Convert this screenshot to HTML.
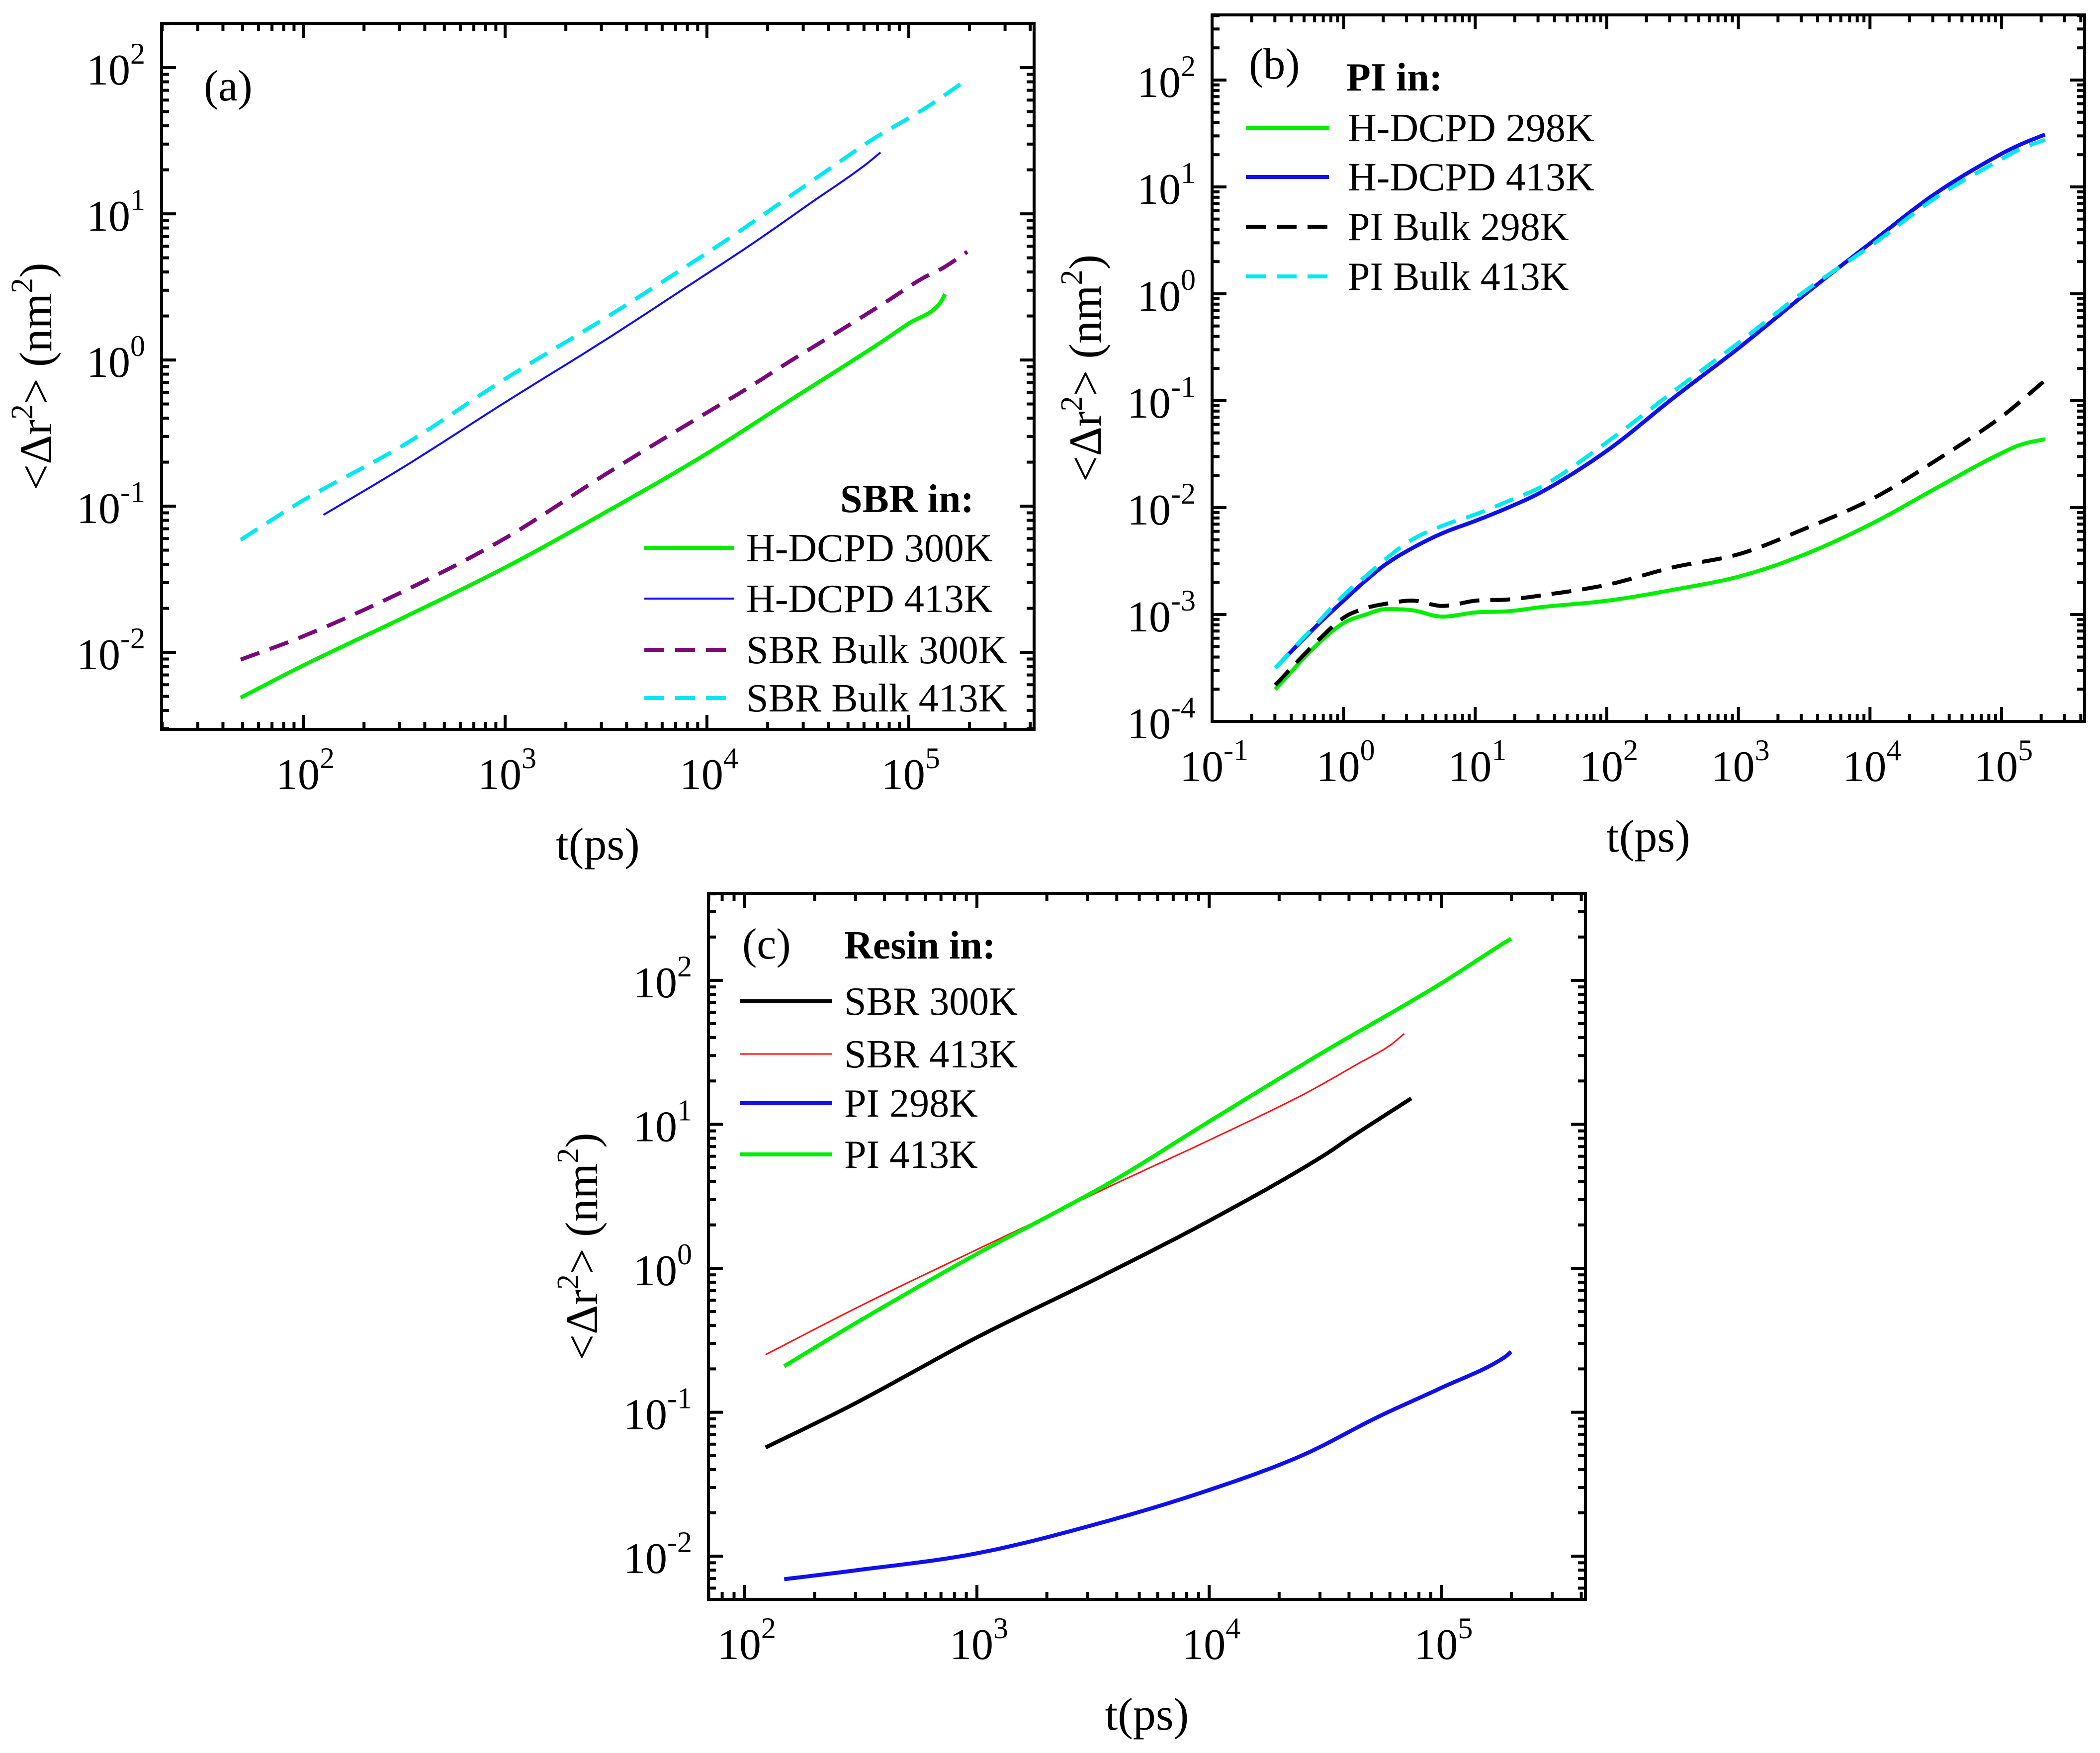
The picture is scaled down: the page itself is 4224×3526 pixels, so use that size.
<!DOCTYPE html>
<html><head><meta charset="utf-8"><style>
html,body{margin:0;padding:0;background:#fff}
svg{display:block}
text{font-family:"Liberation Serif",serif;fill:#000}
</style></head><body>
<svg id="fig" xmlns="http://www.w3.org/2000/svg" width="4224" height="3526" viewBox="0 0 4224 3526"></svg>
<script>
// ---- Panel (a) data (log10 t, log10 MSD) ----
const aGreenX=[1.69,2,2.5,3,3.5,4,4.43,4.67,4.85,5.0,5.15,5.18];
const aGreenY=[-2.31,-2.09,-1.76,-1.42,-1.04,-0.64,-0.26,-0.05,0.11,0.25,0.38,0.45];
const aBlueX=[2.10,2.5,3,3.5,3.9,4.23,4.51,4.78,4.86];
const aBlueY=[-1.06,-0.73,-0.29,0.14,0.50,0.80,1.07,1.33,1.42];
const aPurpleX=[1.69,2,2.5,3,3.5,4,4.17,4.41,4.67,4.89,5.07,5.17,5.29];
const aPurpleY=[-2.05,-1.89,-1.58,-1.22,-0.78,-0.36,-0.22,-0.01,0.21,0.40,0.56,0.63,0.74];
const aCyanX=[1.69,2,2.5,3,3.5,3.92,4.15,4.38,4.62,4.81,5.09,5.29];
const aCyanY=[-1.23,-0.96,-0.58,-0.13,0.29,0.66,0.87,1.09,1.32,1.50,1.73,1.92];
// ---- Panel (b) data ----
const bX=[-0.52,-0.2,0,0.17,0.32,0.52,0.75,1.01,1.25,1.51,2.01,2.5,3.02,3.5,4.03,4.5,5.0,5.15,5.33];
const bBlueY=[-3.50,-3.10,-2.87,-2.68,-2.53,-2.38,-2.24,-2.12,-2.00,-1.85,-1.46,-0.98,-0.49,-0.01,0.50,0.94,1.31,1.40,1.49];
const bCyanY=[-3.50,-3.08,-2.82,-2.64,-2.48,-2.30,-2.17,-2.06,-1.94,-1.80,-1.38,-0.92,-0.44,0.02,0.47,0.90,1.26,1.36,1.44];
const bBlackY=[-3.66,-3.25,-3.03,-2.94,-2.90,-2.87,-2.92,-2.87,-2.86,-2.82,-2.72,-2.56,-2.43,-2.20,-1.91,-1.56,-1.15,-1.00,-0.81];
const bGreenY=[-3.70,-3.28,-3.08,-3.00,-2.95,-2.96,-3.02,-2.98,-2.97,-2.93,-2.87,-2.77,-2.64,-2.44,-2.14,-1.82,-1.49,-1.41,-1.36];
// ---- Panel (c) data ----
const cBlackX=[2.09,2.45,3.0,3.53,4.0,4.49,4.61,4.87];
const cBlackY=[-1.245,-0.96,-0.48,-0.06,0.33,0.78,0.91,1.18];
const cRedX=[2.09,2.5,3.0,3.34,3.6,4.0,4.42,4.64,4.78,4.84];
const cRedY=[-0.60,-0.26,0.13,0.39,0.59,0.89,1.22,1.42,1.55,1.63];
const cGreenX=[2.17,2.5,3.0,3.34,3.6,4.0,4.49,5.0,5.25,5.30];
const cGreenY=[-0.68,-0.36,0.10,0.39,0.62,1.02,1.50,1.98,2.24,2.29];
const cBlueX=[2.17,2.47,3.0,3.53,4.0,4.40,4.73,5.0,5.27,5.30];
const cBlueY=[-2.16,-2.10,-1.98,-1.77,-1.54,-1.30,-1.03,-0.83,-0.62,-0.58];

const NS="http://www.w3.org/2000/svg";
const svg=document.getElementById('fig');
function el(tag,attrs,parent){const e=document.createElementNS(NS,tag);for(const k in attrs)e.setAttribute(k,attrs[k]);(parent||svg).appendChild(e);return e;}
function densify(X,Y){
  const n=X.length,m=[];
  for(let i=0;i<n;i++){
    if(i===0)m.push((Y[1]-Y[0])/(X[1]-X[0]));
    else if(i===n-1)m.push((Y[n-1]-Y[n-2])/(X[n-1]-X[n-2]));
    else{
      const d0=(Y[i]-Y[i-1])/(X[i]-X[i-1]),d1=(Y[i+1]-Y[i])/(X[i+1]-X[i]);
      m.push(d0*d1<=0?0:(d0+d1)/2);
    }
  }
  const out=[[X[0],Y[0]]];
  for(let i=0;i<n-1;i++){
    const h=X[i+1]-X[i];
    for(let k=1;k<=12;k++){
      const t=k/12,t2=t*t,t3=t2*t;
      const y=(2*t3-3*t2+1)*Y[i]+(t3-2*t2+t)*h*m[i]+(-2*t3+3*t2)*Y[i+1]+(t3-t2)*h*m[i+1];
      out.push([X[i]+t*h,y]);
    }
  }
  return out;
}

function makePanel(p){
  const g=el('g',{});
  
  
  const sx=v=>p.L+(v-p.x0)/(p.x1-p.x0)*(p.R-p.L);
  const sy=v=>p.B-(v-p.y0)/(p.y1-p.y0)*(p.B-p.T);
  const tg=el('g',{stroke:'#000','stroke-width':6},g);
  
  
  for(let d=Math.floor(p.x0);d<=Math.ceil(p.x1);d++){
    for(let m=1;m<10;m++){
      const v=d+Math.log10(m); if(v<p.x0||v>p.x1)continue;
      const x=sx(v),len=m===1?29:15;
      el('line',{x1:x,y1:p.B,x2:x,y2:p.B-len},tg);
      el('line',{x1:x,y1:p.T,x2:x,y2:p.T+len},tg);
    }
  }
  for(let d=Math.floor(p.y0);d<=Math.ceil(p.y1);d++){
    for(let m=1;m<10;m++){
      const v=d+Math.log10(m); if(v<p.y0||v>p.y1)continue;
      const y=sy(v),len=m===1?29:15;
      el('line',{x1:p.L,y1:y,x2:p.L+len,y2:y},tg);
      el('line',{x1:p.R,y1:y,x2:p.R-len,y2:y},tg);
    }
  }
  p.series.forEach(s=>{
    const pts=densify(s.x,s.y);
    let d='';
    pts.forEach((q,i)=>{d+=(i?'L':'M')+sx(q[0]).toFixed(1)+','+sy(q[1]).toFixed(1);});
    const a={d:d,fill:'none',stroke:s.c,'stroke-width':s.w,'stroke-linejoin':'round','stroke-linecap':'butt'};
    if(s.dash)a['stroke-dasharray']='40,22';
    const path=el('path',a,g);
    
    
  });
  const fr=el('rect',{x:p.L,y:p.T,width:p.R-p.L,height:p.B-p.T,fill:'none',stroke:'#000','stroke-width':6},g);
  
  
  for(let d=Math.ceil(p.x0);d<=Math.floor(p.x1);d++){
    const t=el('text',{x:sx(d)+4,y:p.B+120,'font-size':88,'text-anchor':'middle'},g);
    
    
    t.innerHTML='10<tspan font-size="60" dy="-42">'+(d<0?'-':'')+Math.abs(d)+'</tspan>';
  }
  for(let d=Math.ceil(p.y0);d<=Math.floor(p.y1);d++){
    const t=el('text',{x:p.L-33,y:sy(d)+34,'font-size':88,'text-anchor':'end'},g);
    
    
    t.innerHTML='10<tspan font-size="60" dy="-42">'+(d<0?'-':'')+Math.abs(d)+'</tspan>';
  }
  const xt=el('text',{x:(p.L+p.R)/2,y:p.B+262,'font-size':92,'text-anchor':'middle'},g);
  
  
  xt.textContent='t(ps)';
  const cy=(p.T+p.B)/2;
  const yt=el('text',{x:p.ytx,y:cy,'font-size':92,'text-anchor':'middle',transform:'rotate(-90 '+p.ytx+' '+cy+')'},g);
  
  
  yt.innerHTML='&lt;&#916;r<tspan font-size="62" dy="-38">2</tspan><tspan dy="38">&gt; (nm</tspan><tspan font-size="62" dy="-38">2</tspan><tspan dy="38">)</tspan>';
  const pl=el('text',{x:p.lab[0],y:p.lab[1],'font-size':88},g);
  
  
  pl.textContent=p.letter;
  const lg=el('g',{},g);
  
  
  const lt=el('text',{x:p.leg.title[0],y:p.leg.title[1],'font-size':80,'font-weight':'bold'},lg);
  
  
  lt.textContent=p.leg.titleText;
  p.series.forEach((s,i)=>{
    const y=p.leg.rows[i];
    const a={x1:p.leg.l0,y1:y,x2:p.leg.l1,y2:y,stroke:s.c,'stroke-width':s.w};
    if(s.dash)a['stroke-dasharray']='40,22';
    const ln=el('line',a,lg);
    
    
    const tx=el('text',{x:p.leg.tx,y:y+27,'font-size':80},lg);
    
    
    tx.textContent=s.label;
  });
}

makePanel({name:'panel-a',L:325,R:2080,T:47,B:1467,x0:1.298,x1:5.621,y0:-2.527,y1:2.303,ytx:103,
  letter:'(a)',lab:[410,202],
  leg:{titleText:'SBR in:',title:[1690,1030],rows:[1102,1204,1307,1404],l0:1296,l1:1477,tx:1501},
  series:[
    {name:'sbr-hdcpd-300k',label:'H-DCPD 300K',x:aGreenX,y:aGreenY,c:'#00ee00',w:8},
    {name:'sbr-hdcpd-413k',label:'H-DCPD 413K',x:aBlueX,y:aBlueY,c:'#1010ee',w:4},
    {name:'sbr-bulk-300k',label:'SBR Bulk 300K',x:aPurpleX,y:aPurpleY,c:'#7a0a7a',w:8,dash:1},
    {name:'sbr-bulk-413k',label:'SBR Bulk 413K',x:aCyanX,y:aCyanY,c:'#00e8f0',w:8,dash:1}]});

makePanel({name:'panel-b',L:2438,R:4193,T:30,B:1451,x0:-1,x1:5.631,y0:-4,y1:2.609,ytx:2214,
  letter:'(b)',lab:[2512,158],
  leg:{titleText:'PI in:',title:[2708,182],rows:[257,356,456,556],l0:2506,l1:2673,tx:2711},
  series:[
    {name:'pi-hdcpd-298k',label:'H-DCPD 298K',x:bX,y:bGreenY,c:'#00ee00',w:8},
    {name:'pi-hdcpd-413k',label:'H-DCPD 413K',x:bX,y:bBlueY,c:'#1010ee',w:8},
    {name:'pi-bulk-298k',label:'PI Bulk 298K',x:bX,y:bBlackY,c:'#000000',w:8,dash:1},
    {name:'pi-bulk-413k',label:'PI Bulk 413K',x:bX,y:bCyanY,c:'#00e8f0',w:8,dash:1}]});

makePanel({name:'panel-c',L:1425,R:3189,T:1797,B:3217,x0:1.844,x1:5.62,y0:-2.30,y1:2.604,ytx:1201,
  letter:'(c)',lab:[1493,1928],
  leg:{titleText:'Resin in:',title:[1698,1928],rows:[2014,2120,2219,2322],l0:1488,l1:1674,tx:1698},
  series:[
    {name:'resin-sbr-300k',label:'SBR 300K',x:cBlackX,y:cBlackY,c:'#000000',w:8},
    {name:'resin-sbr-413k',label:'SBR 413K',x:cRedX,y:cRedY,c:'#ff1010',w:3},
    {name:'resin-pi-298k',label:'PI 298K',x:cBlueX,y:cBlueY,c:'#1010ee',w:8},
    {name:'resin-pi-413k',label:'PI 413K',x:cGreenX,y:cGreenY,c:'#00ee00',w:8}]});
</script>
</body></html>
